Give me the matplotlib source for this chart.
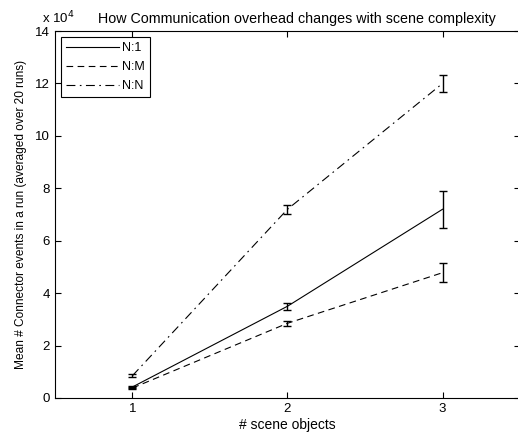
import matplotlib
matplotlib.use("Agg")
import matplotlib.pyplot as plt
from matplotlib.lines import Line2D

plt.rcParams['font.family'] = ['Liberation Sans', 'DejaVu Sans']

# scene object counts and mean connector events (x 10^4)
scene_objects = [1, 2, 3]
n1_mean = [0.42, 3.5, 7.2]
n1_err = [0.05, 0.13, 0.7]
nm_mean = [0.38, 2.85, 4.78]
nm_err = [0.04, 0.1, 0.36]
nn_mean = [0.85, 7.2, 12.0]
nn_err = [0.05, 0.17, 0.33]
y_ticks = [0, 2, 4, 6, 8, 10, 12, 14]
series_names = ['N:1', 'N:M', 'N:N']

styles = ['-', (0, (6, 4)), (0, (8, 4, 1.5, 4))]

fig = plt.figure(figsize=(5.18, 4.4), dpi=100)
ax = fig.add_axes([0.106, 0.0955, 0.898, 0.834])

for mean, err, ls in zip([n1_mean, nm_mean, nn_mean], [n1_err, nm_err, nn_err], styles):
    ax.errorbar(scene_objects, mean, yerr=err, color='black', lw=0.8, ls=ls,
                capsize=3, elinewidth=1.0, capthick=1.0)

ax.set_xlim(0.5, 3.5)
ax.set_ylim(0, 14)
ax.set_xticks(scene_objects)
ax.set_yticks(y_ticks)
ax.tick_params(direction='in', length=4, labelsize=9.5, top=True, right=True, width=0.8)
for s in ax.spines.values():
    s.set_linewidth(0.8)

ax.set_xlabel('# scene objects', fontsize=10, labelpad=2)
ax.set_ylabel('Mean # Connector events in a run (averaged over 20 runs)', fontsize=8.6, labelpad=6)
ax.set_title('How Communication overhead changes with scene complexity', fontsize=10.3, pad=6, x=0.52)
fig.text(0.082, 0.948, r'x 10$^4$', fontsize=9.5)

handles = [Line2D([], [], color='black', lw=0.8, ls=ls) for ls in styles]
leg = ax.legend(handles, series_names, loc='upper left', fontsize=9, fancybox=False,
                framealpha=1, edgecolor='black', handlelength=4.2, borderaxespad=0.5,
                handletextpad=0.3, labelspacing=0.55)
leg.get_frame().set_linewidth(0.8)

fig.savefig('out.png', dpi=100)
